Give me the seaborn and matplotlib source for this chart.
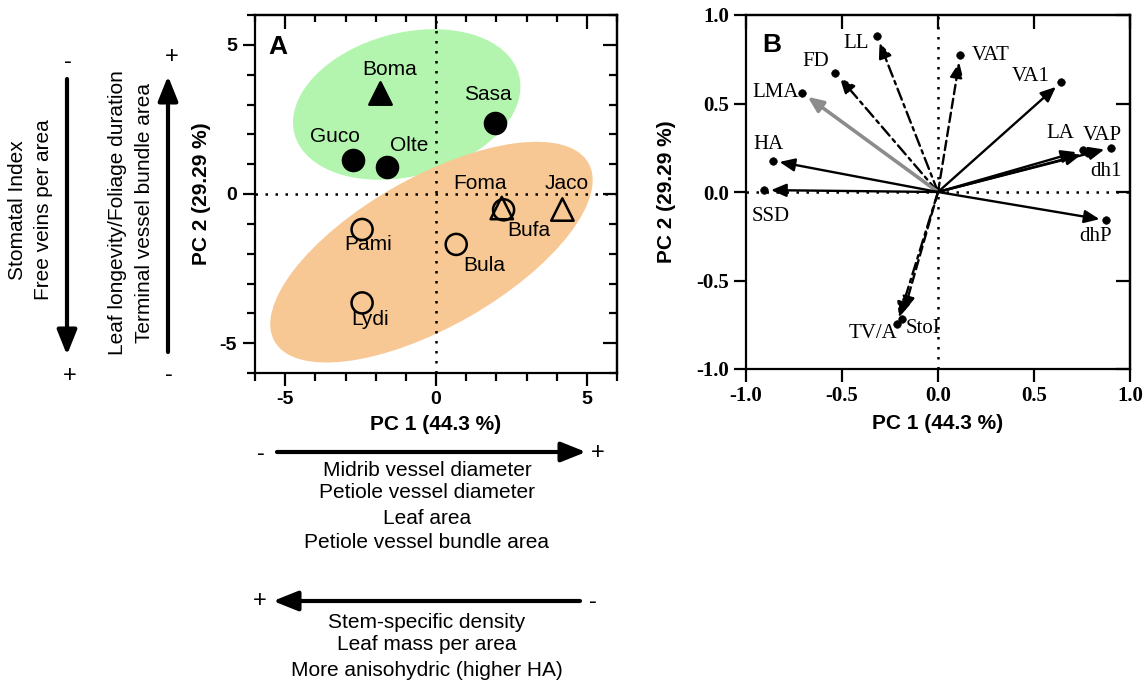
import numpy as np
import pandas as pd
import seaborn as sns
import matplotlib.pyplot as plt
from matplotlib.patches import Ellipse, FancyArrowPatch
from matplotlib.ticker import MultipleLocator

# ---- panel A: site scores on PC1 / PC2
sites = ["Boma", "Sasa", "Guco", "Olte", "Foma", "Bufa", "Jaco", "Pami", "Bula", "Lydi"]
pc1_scores = [-1.87, 1.94, -2.75, -1.62, 2.18, 2.24, 4.19, -2.45, 0.67, -2.45]
pc2_scores = [3.39, 2.37, 1.14, 0.92, -0.47, -0.53, -0.52, -1.19, -1.69, -3.65]
site_cluster = ["upper", "upper", "upper", "upper", "lower", "lower", "lower", "lower", "lower", "lower"]
site_form = ["tri", "circ", "circ", "circ", "tri", "circ", "tri", "circ", "circ", "circ"]

# cluster ellipses (center x, center y, width, height, angle)
ell_cluster = ["upper", "lower"]
ell_cx = [-0.97, -0.15]
ell_cy = [3.0, -1.95]
ell_w = [7.7, 12.0]
ell_h = [4.8, 5.0]
ell_angle = [15, 30]

# ---- panel B: trait loadings
traits = ["LL", "VAT", "FD", "LMA", "HA", "SSD", "VA1", "LA", "dh1", "VAP", "dhP", "TV/A", "StoI"]
load_pc1 = [-0.318, 0.116, -0.535, -0.708, -0.861, -0.906, 0.641, 0.755, 0.78, 0.901, 0.877, -0.214, -0.188]
load_pc2 = [0.88, 0.772, 0.675, 0.561, 0.177, 0.011, 0.62, 0.236, 0.22, 0.25, -0.16, -0.747, -0.715]

ax_ticks_a = [-5, 0, 5]
ax_ticks_b = [-1.0, -0.5, 0.0, 0.5, 1.0]

# ---- layout / style (not data)
W, H = 1146, 684
def fx(px): return px / W
def fy(py): return 1 - py / H

ell_colors = {"upper": "#b3f5ae", "lower": "#f8c894"}
marker_of = {"tri": "^", "circ": "o"}
# label offsets in points for the site names
site_off = {"Boma": (7, 17), "Sasa": (-5, 21), "Guco": (-13, 17), "Olte": (16, 15), "Foma": (-16, 18),
            "Bufa": (18, -15), "Jaco": (3, 19), "Pami": (4, -11), "Bula": (20, -15), "Lydi": (6, -12)}
trait_off = {"LL": (-15, -5), "VAT": (22, 0), "FD": (-14, 8), "LMA": (-19, 0), "HA": (-3, 12),
             "SSD": (5, -19), "VA1": (-22, 4), "LA": (-16, 12), "VAP": (-6, 9), "dh1": (13, -13),
             "dhP": (-8, -12), "TV/A": (-17, -7), "StoI": (15, -7)}
trait_ls = {"LL": (0, (5, 2, 1.5, 2)), "FD": (0, (5, 2, 1.5, 2)), "VAT": (0, (4, 2)),
            "TV/A": (0, (5, 2, 1.5, 2)), "StoI": (0, (4, 2))}

sns.set_theme(style="ticks")
plt.rcParams['font.family'] = ['Liberation Sans', 'DejaVu Sans']
plt.rcParams['axes.unicode_minus'] = False
plt.rcParams['axes.linewidth'] = 1.6
for key in ['text.color', 'axes.labelcolor', 'xtick.color', 'ytick.color', 'axes.edgecolor']:
    plt.rcParams[key] = 'black'

df_a = pd.DataFrame({"site": sites, "pc1": pc1_scores, "pc2": pc2_scores,
                     "cluster": site_cluster, "form": site_form})
df_b = pd.DataFrame({"trait": traits, "pc1": load_pc1, "pc2": load_pc2})

fig = plt.figure(figsize=(W / 100, H / 100), dpi=100)
axA = fig.add_axes([fx(255), fy(373), fx(617) - fx(255), fy(15) - fy(373)])
axB = fig.add_axes([fx(746), fy(369), fx(1130) - fx(746), fy(15) - fy(369)])

# ---------------- panel A
for c, x, y, w, h, a in zip(ell_cluster, ell_cx, ell_cy, ell_w, ell_h, ell_angle):
    axA.add_patch(Ellipse((x, y), w, h, angle=a, facecolor=ell_colors[c], edgecolor='none', zorder=1))
axA.axhline(0, color='black', ls=(0, (1, 3)), lw=1.8, zorder=2)
axA.axvline(0, color='black', ls=(0, (1, 3)), lw=1.8, zorder=2)

for (cl, fo), sub in df_a.groupby(["cluster", "form"]):
    filled = cl == "upper"
    sns.scatterplot(data=sub, x="pc1", y="pc2", marker=marker_of[fo], s=230 if fo == "circ" else 260,
                    facecolor='black' if filled else 'none', edgecolor='black', linewidth=1.8,
                    ax=axA, legend=False, zorder=4)
for s, x, y in zip(sites, pc1_scores, pc2_scores):
    axA.annotate(s, (x, y), xytext=site_off[s], textcoords='offset points',
                 ha='center', va='center', fontsize=15, zorder=5)

axA.set_xlim(-6, 6)
axA.set_ylim(-6, 6)
axA.set_xticks(ax_ticks_a)
axA.set_yticks(ax_ticks_a)
axA.xaxis.set_minor_locator(MultipleLocator(1))
axA.yaxis.set_minor_locator(MultipleLocator(1))
axA.tick_params(which='major', direction='out', length=9, width=1.6, labelsize=14, pad=4)
axA.tick_params(which='minor', direction='out', length=6, width=1.6)
for lab in axA.get_xticklabels() + axA.get_yticklabels():
    lab.set_fontweight('bold')
secx = axA.secondary_xaxis('top')
secx.set_xticks(ax_ticks_a)
secx.xaxis.set_minor_locator(MultipleLocator(1))
secx.tick_params(which='major', direction='in', length=10, width=1.6, labeltop=False)
secx.tick_params(which='minor', direction='in', length=5, width=1.6)
secy = axA.secondary_yaxis('right')
secy.set_yticks(ax_ticks_a)
secy.yaxis.set_minor_locator(MultipleLocator(1))
secy.tick_params(which='major', direction='in', length=10, width=1.6, labelright=False)
secy.tick_params(which='minor', direction='in', length=6, width=1.6)
axA.set_xlabel('')
axA.set_ylabel('')
axA.text(0.5, -0.145, "PC 1 (44.3 %)", transform=axA.transAxes, ha='center', va='center',
         fontsize=15, fontweight='bold')
axA.text(-0.147, 0.5, "PC 2 (29.29 %)", transform=axA.transAxes, ha='center', va='center',
         rotation=90, fontsize=15, fontweight='bold')
axA.text(-5.25, 4.94, "A", ha='center', va='center', fontsize=19, fontweight='bold')

# ---------------- panel B
axB.axhline(0, color='black', ls=(0, (1, 3)), lw=1.8, zorder=1)
axB.axvline(0, color='black', ls=(0, (1, 3)), lw=1.8, zorder=1)
for t, x, y in zip(traits, load_pc1, load_pc2):
    col = '#8c8c8c' if t == "LMA" else 'black'
    lw = 2.6 if t == "LMA" else 1.7
    axB.annotate("", xy=(x, y), xytext=(0, 0),
                 arrowprops=dict(arrowstyle='-|>,head_length=0.7,head_width=0.3', mutation_scale=13,
                                 color=col, lw=lw, ls=trait_ls.get(t, '-'), shrinkA=0, shrinkB=5),
                 zorder=3)
sns.scatterplot(data=df_b, x="pc1", y="pc2", color='black', s=30, edgecolor='black',
                ax=axB, legend=False, zorder=4)
for t, x, y in zip(traits, load_pc1, load_pc2):
    axB.annotate(t, (x, y), xytext=trait_off[t], textcoords='offset points', ha='center', va='center',
                 fontsize=15, family=['Liberation Serif', 'DejaVu Serif'], zorder=5)

axB.set_xlim(-1, 1)
axB.set_ylim(-1, 1)
axB.set_xticks(ax_ticks_b)
axB.set_yticks(ax_ticks_b)
axB.set_xticklabels([f"{v:.1f}" for v in ax_ticks_b])
axB.set_yticklabels([f"{v:.1f}" for v in ax_ticks_b])
axB.tick_params(which='major', direction='out', length=9, width=1.6, labelsize=15, pad=3)
for lab in axB.get_xticklabels() + axB.get_yticklabels():
    lab.set_fontweight('bold')
    lab.set_family(['Liberation Serif', 'DejaVu Serif'])
secxb = axB.secondary_xaxis('top')
secxb.set_xticks(ax_ticks_b)
secxb.tick_params(direction='in', length=10, width=1.6, labeltop=False)
secyb = axB.secondary_yaxis('right')
secyb.set_yticks(ax_ticks_b)
secyb.tick_params(direction='in', length=10, width=1.6, labelright=False)
axB.set_xlabel('')
axB.set_ylabel('')
axB.text(0.5, -0.154, "PC 1 (44.3 %)", transform=axB.transAxes, ha='center', va='center',
         fontsize=15, fontweight='bold')
axB.text(-0.206, 0.5, "PC 2 (29.29 %)", transform=axB.transAxes, ha='center', va='center',
         rotation=90, fontsize=15, fontweight='bold')
axB.text(-0.865, 0.829, "B", ha='center', va='center', fontsize=19, fontweight='bold')

# ---------------- direction annotations around panel A
def fig_arrow(x0, y0, x1, y1):
    fig.add_artist(FancyArrowPatch((fx(x0), fy(y0)), (fx(x1), fy(y1)), transform=fig.transFigure,
                                   arrowstyle='-|>,head_length=0.75,head_width=0.3', mutation_scale=20,
                                   color='black', lw=3, shrinkA=0, shrinkB=0))

def ftext(x, y, s, rot=0, size=15):
    fig.text(fx(x), fy(y), s, ha='center', va='center', rotation=rot, fontsize=size)

# left side
ftext(68, 62, "-", size=17)
fig_arrow(67, 79, 67, 355)
ftext(70, 376, "+", size=17)
ftext(18, 210, "Stomatal Index", 90)
ftext(44, 210, "Free veins per area", 90)
ftext(172, 57, "+", size=17)
fig_arrow(168, 352, 168, 76)
ftext(169, 375, "-", size=17)
ftext(118, 213, "Leaf longevity/Foliage duration", 90)
ftext(144, 213, "Terminal vessel bundle area", 90)

# below
ftext(261, 454, "-", size=17)
fig_arrow(277, 452, 586, 452)
ftext(598, 453, "+", size=17)
for yy, s in zip([470, 493, 518, 542], ["Midrib vessel diameter", "Petiole vessel diameter",
                                        "Leaf area", "Petiole vessel bundle area"]):
    ftext(427, yy, s)
ftext(260, 601, "+", size=17)
fig_arrow(580, 601, 273, 601)
ftext(593, 602, "-", size=17)
for yy, s in zip([622, 645, 670], ["Stem-specific density", "Leaf mass per area",
                                   "More anisohydric (higher HA)"]):
    ftext(427, yy, s)

fig.savefig("out.png", dpi=100)
